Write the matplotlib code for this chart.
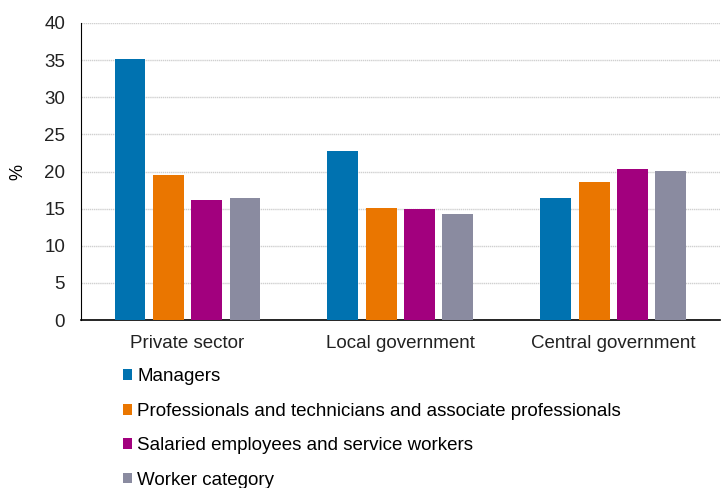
import numpy as np
import matplotlib.pyplot as plt

plt.rcParams['font.family'] = ['Liberation Sans', 'DejaVu Sans']

# ---------------------- data ----------------------
sectors = ["Private sector", "Local government", "Central government"]
series_names = [
    "Managers",
    "Professionals and technicians and associate professionals",
    "Salaried employees and service workers",
    "Worker category",
]
managers = [35.2, 22.7, 16.5]
professionals = [19.5, 15.1, 18.6]
salaried = [16.2, 14.9, 20.3]
workers = [16.5, 14.3, 20.1]
colors = ["#0072B0", "#EA7600", "#A2007E", "#8A8BA0"]

# ---------------------- plot ----------------------
fig = plt.figure(figsize=(7.24, 4.88), dpi=100)
ax = fig.add_axes([0.112, 0.344, 0.882, 0.609])

x = np.arange(len(sectors))
step = 0.18
width = 0.145
all_series = [managers, professionals, salaried, workers]
for i, (vals, name, c) in enumerate(zip(all_series, series_names, colors)):
    ax.bar(x + (i - 1.5) * step, vals, width, color=c, label=name, zorder=3)

ax.set_xlim(-0.5, 2.5)
ax.set_ylim(0, 40)
ax.set_yticks(range(0, 41, 5))
ax.set_xticks(x)
ax.set_xticklabels(sectors)
ax.tick_params(axis="both", length=0, labelsize=13.5, colors="#222222")
ax.tick_params(axis="y", pad=11.5)
ax.tick_params(axis="x", pad=11)
ax.set_ylabel("%", fontsize=13, labelpad=13)

ax.grid(axis="y", color="#d0d0d0", linestyle=(0, (1, 0.5)), linewidth=1, zorder=0)
for s in ["top", "right"]:
    ax.spines[s].set_visible(False)
ax.spines["left"].set_color("black")
ax.spines["bottom"].set_color("black")
ax.spines["bottom"].set_linewidth(1.2)

fig.legend(loc="upper left", bbox_to_anchor=(0.170, 0.245), frameon=False,
           fontsize=13.5, handlelength=0.5, handleheight=0.5, handletextpad=0.25,
           labelspacing=0.93, borderaxespad=0, borderpad=0)

fig.savefig("out.png", dpi=100)
